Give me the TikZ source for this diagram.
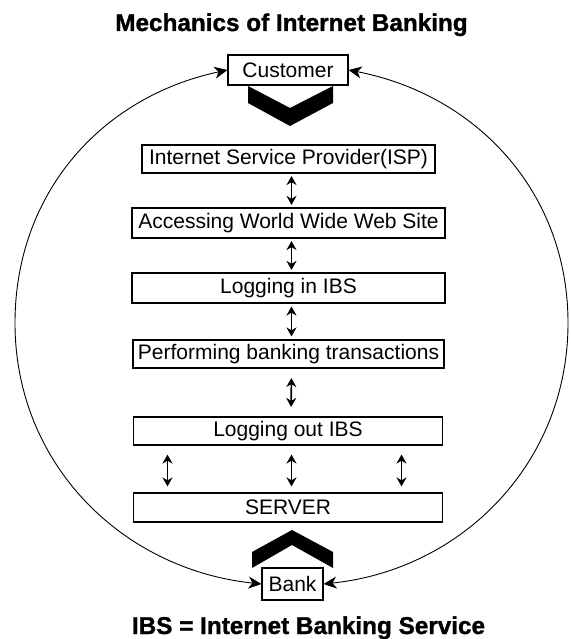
\documentclass[tikz,border=0pt]{standalone}
\usepackage{fontspec}
\setmainfont{Liberation Sans}
\newfontfamily\heavyfont[BoldFeatures={FakeBold=1.2}]{Liberation Sans}
\usetikzlibrary{arrows.meta}

\tikzset{
	box/.style={draw, line width=1.1pt, fill=white, inner sep=0pt, font=\fontsize{21}{24}\selectfont},
	dbl/.style={line width=1.6pt, {Stealth[length=9pt,width=10pt]}-{Stealth[length=9pt,width=10pt]}},
	ring/.style={line width=0.9pt, {Stealth[length=13pt,width=12pt,inset=4pt]}-{Stealth[length=13pt,width=12pt,inset=4pt]}},
	heading/.style={font=\heavyfont\bfseries\fontsize{24.3}{28}\selectfont, inner sep=0pt, anchor=base}
}

\begin{document}
\begin{tikzpicture}[x=1pt, y=1pt]
				%defs
				\useasboundingbox (0,0) rectangle (570,639);
				\coordinate (L) at (15,316);
				\coordinate (R) at (568,316);
				%chevrons
				\fill (248,553) -- (290,531) -- (333,553) -- (333,536) -- (290,513) -- (248,536) -- cycle;
				\fill (252,71) -- (252,87) -- (292,109) -- (333,87) -- (333,71) -- (292,94) -- cycle;
				%boxes
				\node[box, minimum width=120pt, minimum height=30pt] (cust) at (288,569) {Customer};
				\node[box, minimum width=293pt, minimum height=28pt] (isp) at (288.5,480) {Internet Service Provider(ISP)};
				\node[box, minimum width=313pt, minimum height=30pt] (www) at (288.5,416) {Accessing World Wide Web Site};
				\node[box, minimum width=313pt, minimum height=30pt] (login) at (288.5,351) {Logging in IBS};
				\node[box, minimum width=311pt, minimum height=28pt] (perf) at (288.5,285) {Performing banking transactions};
				\node[box, minimum width=309pt, minimum height=28pt] (logout) at (288,208) {Logging out IBS};
				\node[box, minimum width=309pt, minimum height=29pt] (server) at (288,131.5) {SERVER};
				\node[box, minimum width=61pt, minimum height=32pt] (bank) at (292.5,55) {Bank};
				%arrows
				\foreach \a/\b/\s in {isp/www/2.5, www/login/2.5, login/perf/3, perf/logout/9.5}
					\draw[dbl, shorten <=\s pt, shorten >=\s pt] ([xshift=3pt]\a.south) -- ([xshift=3pt]\b.north);
				\foreach \dx in {-120.5,3.5,113.5}
					\draw[dbl, shorten <=9pt, shorten >=6pt] ([xshift=\dx pt]logout.south) -- ([xshift=\dx pt]server.north);
				\draw[ring] (cust.west) to[out=192, in=90] (L) to[out=270, in=174] (bank.west);
				\draw[ring] (cust.east) to[out=-11, in=90] (R) to[out=270, in=6] (bank.east);
				%Labels
				\node[heading] (title) at (291.5,608) {Mechanics of Internet Banking};
				\node[heading] (note) at (308.5,5) {IBS = Internet Banking Service};
			\end{tikzpicture}
\end{document}
